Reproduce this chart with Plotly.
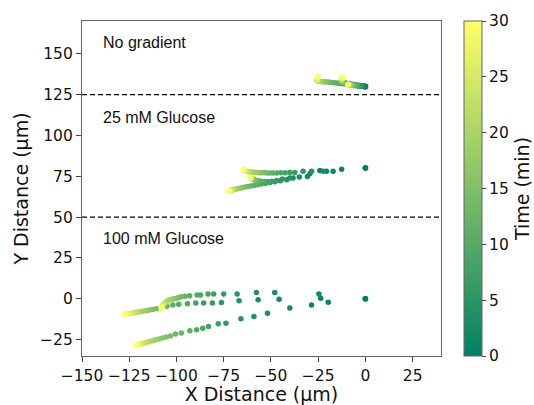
import plotly.graph_objects as go

# Time (min) of each frame in every track
TIME = [0, 1, 2, 3, 4, 5, 6, 7, 8, 9, 10, 11, 12, 13, 14, 15, 16, 17, 18, 19, 20,
        21, 22, 23, 24, 25, 26, 27, 28, 29, 30]

# ---- 100 mM Glucose (start at 0, 0)
hi1_x = [0, -23.7, -24.6, -48, -57.7, -67.9, -75, -80.3, -83.3, -87.3, -89.1, -93, -95.5, -97.4, -98.8, -100,
         -101.4, -102.7, -103.7, -104.5, -105.2, -105.8, -106.3, -106.7, -107.1, -107.4, -107.6, -107.8, -107.9, -108, -108]
hi1_y = [0, 0.4, 3.0, 3.8, 3.8, 3.0, 3.0, 3.0, 3.0, 2.4, 2.4, 1.9, 1.5, 1.2, 0.8, 0.4,
         0, -0.4, -0.8, -1.2, -1.7, -2.2, -2.7, -3.2, -3.7, -4.1, -4.5, -4.9, -5.2, -5.4, -5.6]
hi2_x = [0, -19.7, -45.7, -56.8, -66.9, -76.2, -81, -85.6, -89.8, -94.2, -98.8, -101.9, -105, -108.2, -110.6, -112.6,
         -114.3, -115.8, -117.1, -118.3, -119.4, -120.4, -121.4, -122.3, -123.2, -124, -124.8, -125.5, -126.2, -126.9, -127.5]
hi2_y = [0, -2.1, -0.2, -0.6, -1.2, -2.2, -2.6, -2.6, -2.6, -3.1, -3.3, -3.8, -4.6, -5.5, -6.1, -6.5,
         -6.9, -7.2, -7.5, -7.7, -7.9, -8.1, -8.3, -8.5, -8.7, -8.8, -9.0, -9.1, -9.2, -9.3, -9.4]
hi3_x = [0, -28.5, -40, -51.8, -59, -65.9, -73.8, -77.9, -83, -86.1, -89.3, -92.9, -97.4, -100.5, -103.2, -105.5,
         -107.5, -109.3, -110.9, -112.4, -113.8, -115, -116.1, -117.1, -118, -118.8, -119.5, -120.1, -120.6, -121, -121.3]
hi3_y = [0, -3.8, -5.7, -8.8, -10.8, -12.2, -14.9, -15.3, -16.9, -18, -19, -19.6, -21, -21.6, -22.7, -23.4,
         -24, -24.6, -25.1, -25.6, -26, -26.4, -26.8, -27.1, -27.4, -27.6, -27.8, -28, -28.1, -28.2, -28.3]

# ---- 25 mM Glucose (start at 0, 80)
mid1_x = [0, -12.6, -17.1, -22.4, -28.5, -33, -37.4, -40, -42.5, -44.8, -46.9, -48.8, -50.5, -52.1, -53.6, -55,
          -56.3, -57.5, -58.6, -59.6, -60.5, -61.3, -62, -62.6, -63.1, -63.5, -63.9, -64.2, -64.4, -64.6, -64.7]
mid1_y = [80, 79.3, 78, 78, 78, 78, 77.3, 77.3, 77.2, 77.1, 77, 77, 77, 77, 77.1, 77.1,
          77.2, 77.3, 77.4, 77.5, 77.6, 77.7, 77.8, 77.9, 78.1, 78.3, 78.5, 78.7, 78.9, 79, 79.1]
mid2_x = [0, -20.6, -29.4, -38.3, -41.6, -45, -48, -50.6, -53, -55.2, -57.2, -59, -60.7, -62.2, -63.6, -64.9,
          -66, -67, -67.9, -68.7, -69.4, -70, -70.5, -70.9, -71.2, -71.5, -71.7, -71.9, -72, -72.1, -72.2]
mid2_y = [80, 78, 76.6, 73.9, 72.9, 72.3, 71.6, 71.1, 70.6, 70.2, 69.8, 69.4, 69.1, 68.7, 68.4, 68.1,
          67.8, 67.5, 67.3, 67.1, 66.9, 66.7, 66.5, 66.4, 66.3, 66.2, 66.1, 66, 65.9, 65.8, 65.7]
mid3_x = [0, -24.1, -30.7, -35, -40, -44, -47, -49.5, -51.6, -53.4, -55, -56.3, -57.3, -58.1, -58.7, -59.2,
          -59.6, -59.9, -60.1, -60.3, -60.4, -60.5, -60.6, -60.6, -60.7, -60.7, -60.8, -60.8, -60.8, -60.9, -60.9]
mid3_y = [80, 78.5, 74.9, 74.5, 74, 73.3, 72.4, 72, 71.8, 71.8, 71.9, 72.1, 72.3, 72.6, 72.9, 73.1,
          73.3, 73.5, 73.6, 73.7, 73.8, 73.9, 74, 74, 74.1, 74.1, 74.2, 74.2, 74.3, 74.3, 74.3]

# ---- No gradient (start at 0, 130)
ng1_x = [0, -1.5, -3, -4.5, -6, -7.5, -9, -10.5, -12, -13.5, -15, -16.5, -17.8, -19, -20.1, -21.1,
         -22, -22.8, -23.5, -24.1, -24.6, -25, -25.3, -25.5, -25.6, -25.6, -25.5, -25.4, -25.3, -25.2, -25.1]
ng1_y = [130, 130.2, 130.4, 130.6, 130.8, 131, 131.2, 131.4, 131.6, 131.8, 132, 132.2, 132.3, 132.5, 132.6, 132.7,
         132.8, 132.9, 133, 133, 133.1, 133.2, 133.3, 133.5, 133.8, 134.1, 134.5, 134.9, 135.3, 135.7, 136]
ng2_x = [0, -1, -2, -3, -4, -5, -6, -7, -8, -9, -10, -10.8, -11.5, -12, -12.4, -12.6,
         -12.7, -12.7, -12.6, -12.5, -12.4, -12.3, -12.3, -12.3, -12.3, -12.3, -12.3, -12.3, -12.3, -12.3, -12.3]
ng2_y = [130, 130.1, 130.3, 130.5, 130.7, 130.9, 131.1, 131.3, 131.5, 131.7, 131.9, 132.1, 132.3, 132.5, 132.7, 132.9,
         133.1, 133.3, 133.5, 133.7, 133.9, 134.1, 134.3, 134.5, 134.7, 134.9, 135.1, 135.3, 135.4, 135.5, 135.6]
ng3_x = [0, -0.5, -1, -1.5, -2, -2.5, -3, -3.5, -4, -4.5, -5, -5.5, -6, -6.4, -6.8, -7.2,
         -7.5, -7.8, -8.1, -8.3, -8.5, -8.7, -8.8, -8.9, -9, -9.1, -9.1, -9.2, -9.2, -9.2, -9.2]
ng3_y = [129.6, 129.8, 130, 130.1, 130.2, 130.2, 130.3, 130.3, 130.4, 130.4, 130.5, 130.5, 130.6, 130.6, 130.7, 130.7,
         130.8, 130.8, 130.9, 130.9, 131, 131, 131, 131, 131.1, 131.1, 131.1, 131.1, 131.1, 131.1, 131.1]

TRACKS = [(hi3_x, hi3_y), (hi2_x, hi2_y), (hi1_x, hi1_y),
          (mid2_x, mid2_y), (mid3_x, mid3_y), (mid1_x, mid1_y),
          (ng1_x, ng1_y), (ng2_x, ng2_y), (ng3_x, ng3_y)]

BOUNDARIES = [125, 50]
LABELS = ["No gradient", "25 mM Glucose", "100 mM Glucose"]
LABEL_Y = [157, 111, 37]

X_TICKS = [-150, -125, -100, -75, -50, -25, 0, 25]
Y_TICKS = [-25, 0, 25, 50, 75, 100, 125, 150]
C_TICKS = [0, 5, 10, 15, 20, 25, 30]


def lab(v):
    return str(v).replace("-", "\u2212")


SUMMER = [[0, "rgb(0,128,102)"], [1, "rgb(255,255,102)"]]

fig = go.Figure()
for i, (tx, ty) in enumerate(TRACKS):
    fig.add_trace(go.Scatter(
        x=tx, y=ty, mode="markers",
        marker=dict(size=5.5, color=TIME, coloraxis="coloraxis", line=dict(width=0)),
        showlegend=False, hoverinfo="skip"))

for b in BOUNDARIES:
    fig.add_shape(type="line", xref="paper", x0=0, x1=1, yref="y", y0=b, y1=b,
                  line=dict(color="black", width=1.3, dash="5px,3px"))

for t, yv in zip(LABELS, LABEL_Y):
    fig.add_annotation(x=-140, y=yv, text=t, showarrow=False, xanchor="left", yanchor="middle",
                       font=dict(family="Liberation Sans, Arial", size=16, color="#111"))

tickfont = dict(family="DejaVu Sans", size=15.5, color="#111")
titlefont = dict(family="DejaVu Sans", size=19, color="#111")

fig.update_layout(
    width=534, height=405,
    margin=dict(l=82, r=93, t=21, b=49, autoexpand=False),
    paper_bgcolor="white", plot_bgcolor="white",
    coloraxis=dict(
        colorscale=SUMMER, cmin=0, cmax=30,
        colorbar=dict(
            x=1.064, xanchor="left", xpad=0, ypad=0,
            y=0.5, yanchor="middle", len=1, lenmode="fraction",
            thickness=18, outlinewidth=1, outlinecolor="#666",
            tickvals=C_TICKS, ticktext=[lab(v) for v in C_TICKS],
            ticks="outside", ticklen=4, tickcolor="#444", tickfont=tickfont,
            title=dict(text="Time (min)", side="right", font=titlefont))),
    xaxis=dict(range=[-150, 40], tickvals=X_TICKS, ticktext=[lab(v) for v in X_TICKS],
               ticks="outside", ticklen=5, tickcolor="#444", tickfont=tickfont,
               showline=True, mirror=True, linecolor="#666", linewidth=1.2,
               showgrid=False, zeroline=False, automargin=False,
               title=dict(text="X Distance (µm)", font=titlefont, standoff=6)),
    yaxis=dict(range=[-35, 170], tickvals=Y_TICKS, ticktext=[lab(v) for v in Y_TICKS],
               ticks="outside", ticklen=5, tickcolor="#444", tickfont=tickfont,
               showline=True, mirror=True, linecolor="#666", linewidth=1.2,
               showgrid=False, zeroline=False, automargin=False,
               title=dict(text="Y Distance (µm)", font=titlefont, standoff=6)),
)

fig.write_html("out.html")
